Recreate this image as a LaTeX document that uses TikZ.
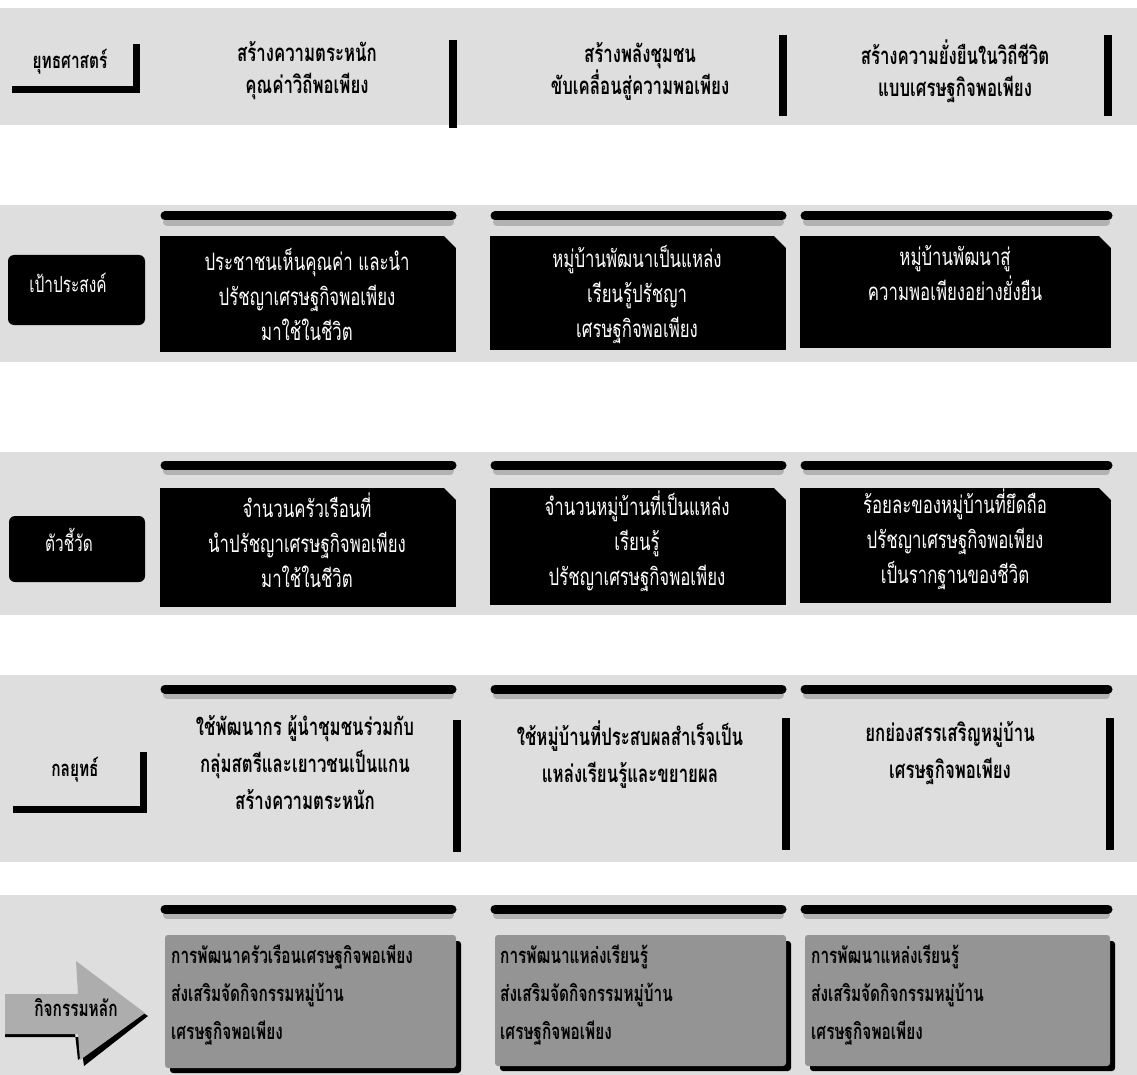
\documentclass[tikz,border=0pt]{standalone}
\usepackage{fontspec}
\newfontfamily\thaifont[Script=Thai,FakeStretch=0.7]{Loma}
\begin{document}
\begin{tikzpicture}[x=1pt,y=-1pt,
  band/.style={fill=black!13,draw=none},
  topbar/.style={line width=9pt,line cap=round,black},
  barshadow/.style={line width=8pt,line cap=round,black!30},
  vbar/.style={line width=8pt,black},
  hdr/.style={font=\thaifont\bfseries\fontsize{24}{32}\selectfont,align=center,text=black,inner sep=0pt},
  wtxt/.style={font=\thaifont\fontsize{24}{35}\selectfont,align=center,text=white,inner sep=0pt},
  btxt/.style={font=\thaifont\bfseries\fontsize{24}{37}\selectfont,align=center,text=black,inner sep=0pt},
  gtxt/.style={font=\thaifont\bfseries\fontsize{22}{38}\selectfont,align=left,text=black,inner sep=0pt,anchor=north west},
  blackbox/.style={fill=black,draw=none},
  graybox/.style={fill=black!42,draw=none,rounded corners=3pt},
  lbl/.style={font=\thaifont\bfseries\fontsize{22}{24}\selectfont,text=black,inner sep=0pt},
  wlbl/.style={font=\thaifont\fontsize{22}{24}\selectfont,text=white,inner sep=0pt},
  fold/.style={fill=black!13,draw=none}
]
\useasboundingbox (0,0) rectangle (1137,1075);
\fill[white] (0,0) rectangle (1137,1075);
% background bands
\fill[band] (0,8) rectangle (1137,125);
\fill[band] (0,205) rectangle (1137,362);
\fill[band] (0,452) rectangle (1137,615);
\fill[band] (0,675) rectangle (1137,862);
\fill[band] (0,895) rectangle (1137,1075);

% ---------- Row 1 ----------
\node[lbl] (l1) at (70,62) {ยุทธศาสตร์};
\draw[line width=7pt] (12,90) -- (136,90) -- (136,44);
\node[hdr] (h1) at (307,71) {สร้างความตระหนัก\\คุณค่าวิถีพอเพียง};
\node[hdr] (h2) at (640,71) {สร้างพลังชุมชน\\ขับเคลื่อนสู่ความพอเพียง};
\node[hdr] (h3) at (955,71) {สร้างความยั่งยืนในวิถีชีวิต\\แบบเศรษฐกิจพอเพียง};
\draw[vbar] (453,40) -- (453,128);
\draw[vbar] (783,35) -- (783,116);
\draw[vbar] (1108,35) -- (1108,116);

% ---------- Row 2 ----------
\fill[black,rounded corners=6pt] (8,255) rectangle (145,325);
\node[wlbl] (l2) at (68,283) {เป้าประสงค์};
\foreach \a/\b in {165/452,495/782,805/1108}{
  \draw[barshadow] (\a+2,222) -- (\b-2,222);
  \draw[topbar] (\a,216) -- (\b,216);}
\fill[blackbox] (160,236) rectangle (456,352);
\fill[blackbox] (490,236) rectangle (786,350);
\fill[blackbox] (800,236) rectangle (1111,348);
\fill[fold] (444,236) -- (456,236) -- (456,248) -- cycle;
\fill[fold] (774,236) -- (786,236) -- (786,248) -- cycle;
\fill[fold] (1099,236) -- (1111,236) -- (1111,248) -- cycle;
\node[wtxt,anchor=north] (g1) at (307,248) {ประชาชนเห็นคุณค่า และนำ\\ปรัชญาเศรษฐกิจพอเพียง\\มาใช้ในชีวิต};
\node[wtxt,anchor=north] (g2) at (637,245) {หมู่บ้านพัฒนาเป็นแหล่ง\\เรียนรู้ปรัชญา\\เศรษฐกิจพอเพียง};
\node[wtxt,anchor=north] (g3) at (955,245) {หมู่บ้านพัฒนาสู่\\ความพอเพียงอย่างยั่งยืน};

% ---------- Row 3 ----------
\fill[black,rounded corners=6pt] (9,516) rectangle (145,582);
\node[wlbl] (l3) at (69,540) {ตัวชี้วัด};
\foreach \a/\b in {165/452,495/782,805/1108}{
  \draw[barshadow] (\a+2,471) -- (\b-2,471);
  \draw[topbar] (\a,465) -- (\b,465);}
\fill[blackbox] (160,488) rectangle (456,607);
\fill[blackbox] (490,488) rectangle (786,605);
\fill[blackbox] (800,488) rectangle (1111,603);
\fill[fold] (444,488) -- (456,488) -- (456,500) -- cycle;
\fill[fold] (774,488) -- (786,488) -- (786,500) -- cycle;
\fill[fold] (1099,488) -- (1111,488) -- (1111,500) -- cycle;
\node[wtxt,anchor=north] (k1) at (307,493) {จำนวนครัวเรือนที่\\นำปรัชญาเศรษฐกิจพอเพียง\\มาใช้ในชีวิต};
\node[wtxt,anchor=north] (k2) at (637,491) {จำนวนหมู่บ้านที่เป็นแหล่ง\\เรียนรู้\\ปรัชญาเศรษฐกิจพอเพียง};
\node[wtxt,anchor=north] (k3) at (955,489) {ร้อยละของหมู่บ้านที่ยึดถือ\\ปรัชญาเศรษฐกิจพอเพียง\\เป็นรากฐานของชีวิต};

% ---------- Row 4 ----------
\node[lbl] (l4) at (75,770) {กลยุทธ์};
\draw[line width=7pt] (13,809) -- (143,809) -- (143,752);
\foreach \a/\b in {165/452,495/782,805/1108}{
  \draw[barshadow] (\a+2,695) -- (\b-2,695);
  \draw[topbar] (\a,689) -- (\b,689);}
\draw[vbar] (457,720) -- (457,852);
\draw[vbar] (786,718) -- (786,850);
\draw[vbar] (1110,718) -- (1110,850);
\node[btxt,anchor=north] (s1) at (305,715) {ใช้พัฒนากร ผู้นำชุมชนร่วมกับ\\กลุ่มสตรีและเยาวชนเป็นแกน\\สร้างความตระหนัก};
\node[btxt,anchor=north] (s2) at (630,721) {ใช้หมู่บ้านที่ประสบผลสำเร็จเป็น\\แหล่งเรียนรู้และขยายผล};
\node[btxt,anchor=north] (s3) at (950,721) {ยกย่องสรรเสริญหมู่บ้าน\\เศรษฐกิจพอเพียง};

% ---------- Row 5 ----------
\fill[black] (5,1037) -- (80,1037) -- (84,1066) -- (148,1016) -- (142,1012) -- (78,1060) -- (75,1033) -- (5,1033) -- cycle;
\fill[black!32] (5,994) -- (78,994) -- (76,961) -- (145,1013) -- (80,1060) -- (78,1034) -- (5,1034) -- cycle;
\node[lbl] (l5) at (76,1008) {กิจกรรมหลัก};
\foreach \a/\b in {165/452,495/782,805/1108}{
  \draw[barshadow] (\a+2,915) -- (\b-2,915);
  \draw[topbar] (\a,909) -- (\b,909);}
\fill[black,rounded corners=3pt] (170,941) rectangle (461,1073);
\fill[black,rounded corners=3pt] (500,941) rectangle (791,1071);
\fill[black,rounded corners=3pt] (810,941) rectangle (1115,1071);
\fill[graybox] (165,935) rectangle (456,1068);
\fill[graybox] (495,935) rectangle (786,1066);
\fill[graybox] (805,935) rectangle (1110,1066);
\node[gtxt] (a1) at (171,945) {การพัฒนาครัวเรือนเศรษฐกิจพอเพียง\\ส่งเสริมจัดกิจกรรมหมู่บ้าน\\เศรษฐกิจพอเพียง};
\node[gtxt] (a2) at (500,945) {การพัฒนาแหล่งเรียนรู้\\ส่งเสริมจัดกิจกรรมหมู่บ้าน\\เศรษฐกิจพอเพียง};
\node[gtxt] (a3) at (811,945) {การพัฒนาแหล่งเรียนรู้\\ส่งเสริมจัดกิจกรรมหมู่บ้าน\\เศรษฐกิจพอเพียง};
\end{tikzpicture}
\end{document}
